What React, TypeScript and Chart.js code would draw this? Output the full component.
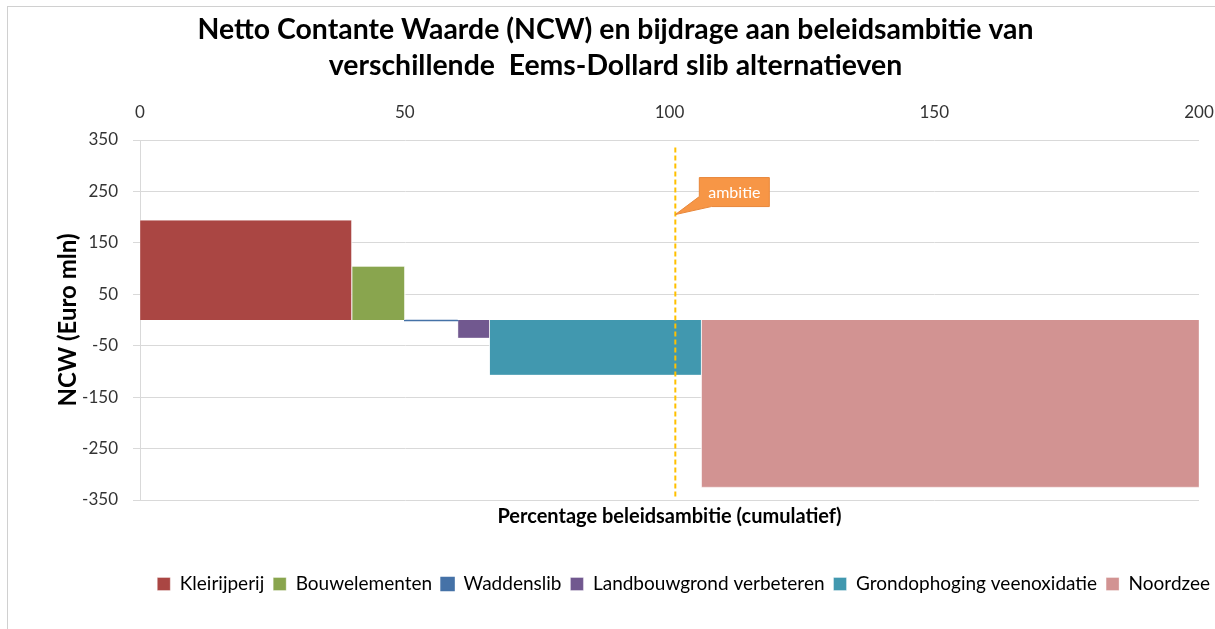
import React, { useEffect, useRef } from 'react';
import { Chart, registerables } from 'chart.js';

Chart.register(...registerables);

// ---- data ----
const categories = [
  'Kleirijperij',
  'Bouwelementen',
  'Waddenslib',
  'Landbouwgrond verbeteren',
  'Grondophoging veenoxidatie',
  'Noordzee',
];
const xStart = [0, 40, 50, 60, 66, 106];
const xEnd = [40, 50, 60, 66, 106, 200];
const ncwValues = [194, 104, -1, -35, -107, -325];
const fillColors = ['#AA4643', '#89A54E', '#4572A7', '#71588F', '#4198AF', '#D29392'];
const ambitieX = 101.1;
const ambitieRange = [-343, 340];
const ambitieLabelY = 205;
const xTicks = [0, 50, 100, 150, 200];
const yTicks = [-350, -250, -150, -50, 50, 150, 250, 350];

const FONT = 'Lato';

export default function App() {
  const ref = useRef<HTMLCanvasElement>(null);

  useEffect(() => {
    if (!ref.current) return;
    Chart.defaults.font.family = FONT;

    const barSets = categories.map((c, i) => ({
      label: c,
      data: [
        { x: xStart[i], y: 0 },
        { x: xStart[i], y: ncwValues[i] },
        { x: xEnd[i], y: ncwValues[i] },
        { x: xEnd[i], y: 0 },
      ],
      backgroundColor: fillColors[i],
      borderColor: i === 2 ? fillColors[i] : 'rgba(255,255,255,0.35)',
      borderWidth: i === 2 ? 1.5 : 1,
      fill: 'origin',
      pointRadius: 0,
      tension: 0,
      order: 1,
    }));

    const ambitieSet = {
      label: 'ambitie',
      data: [
        { x: ambitieX, y: ambitieRange[0] },
        { x: ambitieX, y: ambitieRange[1] },
      ],
      borderColor: '#FFC000',
      backgroundColor: '#FFC000',
      borderWidth: 2,
      borderDash: [5, 3],
      fill: false,
      pointRadius: 0,
      order: 0,
    };

    const calloutPlugin = {
      id: 'callout',
      afterLayout(chart: any) {
        if (chart.legend) {
          chart.legend.left += 4;
          chart.legend.right += 4;
        }
        if (chart.titleBlock) {
          chart.titleBlock.left += 8;
          chart.titleBlock.right += 8;
        }
      },
      afterDatasetsDraw(chart: any) {
        const { ctx, scales } = chart;
        const px = scales.x.getPixelForValue(ambitieX);
        const py = scales.y.getPixelForValue(ambitieLabelY);
        const bx = px + 24;
        const by = py - 37;
        const bw = 70;
        const bh = 29;
        ctx.save();
        ctx.fillStyle = '#F79646';
        ctx.strokeStyle = '#E8873A';
        ctx.lineWidth = 1;
        ctx.beginPath();
        ctx.moveTo(bx, by);
        ctx.lineTo(bx + bw, by);
        ctx.lineTo(bx + bw, by + bh);
        ctx.lineTo(bx + 12, by + bh);
        ctx.lineTo(px, py);
        ctx.lineTo(bx, by + bh - 10);
        ctx.closePath();
        ctx.fill();
        ctx.stroke();
        ctx.fillStyle = '#ffffff';
        ctx.font = `16px ${FONT}`;
        ctx.textAlign = 'center';
        ctx.textBaseline = 'middle';
        ctx.fillText('ambitie', bx + bw / 2, by + bh / 2 + 1);
        ctx.restore();
      },
    };

    const chart = new Chart(ref.current, {
      type: 'line',
      data: { datasets: [...barSets, ambitieSet] as any },
      options: {
        animation: false,
        responsive: false,
        events: [],
        layout: { padding: { left: 0, right: 0, top: 0, bottom: 25.5 } },
        plugins: {
          tooltip: { enabled: false },
          title: {
            display: true,
            text: [
              'Netto Contante Waarde (NCW) en bijdrage aan beleidsambitie van',
              'verschillende  Eems-Dollard slib alternatieven',
            ],
            color: '#000',
            font: { family: FONT, size: 28.4, weight: 'bold', lineHeight: 36 / 28.4 },
            padding: { top: 12, bottom: 0 },
          },
          legend: {
            position: 'bottom',
            align: 'end',
            labels: {
              boxWidth: 13,
              boxHeight: 13,
              padding: 9,
              color: '#000',
              font: { family: FONT, size: 19 },
              filter: (item: any) => item.text !== 'ambitie',
            },
          },
        },
        scales: {
          x: {
            type: 'linear',
            position: 'top',
            min: 0,
            max: 200,
            afterBuildTicks: (s: any) => {
              s.ticks = xTicks.map((v) => ({ value: v }));
            },
            afterFit: (s: any) => {
              s.height = 56;
              s.paddingRight = 16;
            },
            grid: { display: false, drawTicks: false },
            border: { display: false },
            ticks: { color: '#333', font: { family: FONT, size: 17 }, padding: 17, maxRotation: 0 },
          },
          x2: {
            type: 'linear',
            position: 'bottom',
            min: 0,
            max: 1,
            afterFit: (s: any) => {
              s.height = 65.5;
              s.paddingRight = 0;
              s.paddingLeft = 0;
            },
            grid: { display: false, drawTicks: false },
            border: { display: false },
            ticks: { display: false },
            title: {
              display: true,
              text: 'Percentage beleidsambitie (cumulatief)',
              color: '#000',
              font: { family: FONT, size: 20, weight: 'bold', lineHeight: 1.2 },
              padding: { top: 0, bottom: 36.5 },
            },
          },
          y: {
            type: 'linear',
            position: 'left',
            min: -350,
            max: 350,
            afterBuildTicks: (s: any) => {
              s.ticks = yTicks.map((v) => ({ value: v }));
            },
            afterFit: (s: any) => {
              s.width = 140;
            },
            grid: { color: '#D9D9D9', tickLength: 7, drawTicks: true },
            border: { display: true, color: '#D9D9D9' },
            ticks: { color: '#333', font: { family: FONT, size: 17 }, padding: 15 },
            title: {
              display: true,
              text: 'NCW (Euro mln)',
              color: '#000',
              font: { family: FONT, size: 24, weight: 'bold', lineHeight: 1.2 },
              padding: { top: 53.6, bottom: 0 },
            },
          },
        },
      },
      plugins: [calloutPlugin],
    });

    return () => chart.destroy();
  }, []);

  return (
    <div
      style={{
        position: 'fixed',
        left: 0,
        top: 0,
        width: 1215,
        height: 629,
        background: '#fff',
        overflow: 'hidden',
      }}
    >
      <div
        style={{
          position: 'absolute',
          left: 7,
          top: 6,
          width: 1215,
          height: 629,
          border: '1px solid #D0D0D0',
          boxSizing: 'border-box',
        }}
      />
      <canvas ref={ref} width={1215} height={629} style={{ position: 'absolute', left: 0, top: 0 }} />
    </div>
  );
}
